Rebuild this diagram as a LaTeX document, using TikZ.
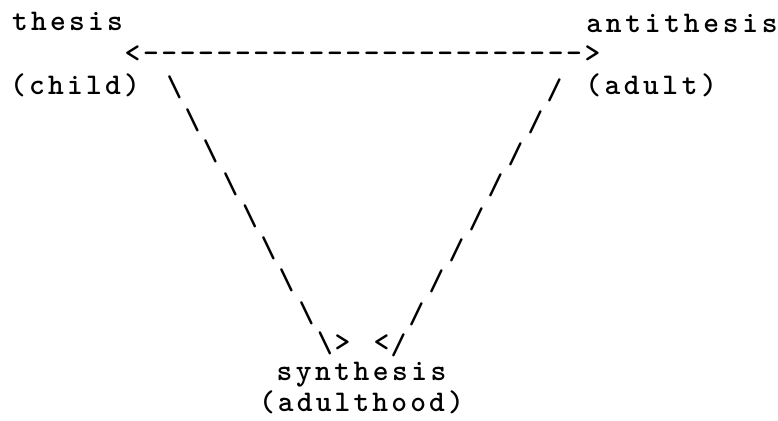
\documentclass[tikz,border=0pt]{standalone}
\newlength\chpitch
\makeatletter
\def\pitchtext#1#2{\setlength\chpitch{#1pt}\pitch@step#2\relax}
\def\pitch@step#1{\ifx#1\relax\else\makebox[\chpitch][c]{#1}\expandafter\pitch@step\fi}
\makeatother
\tikzset{
  tw/.style={inner sep=0pt, outer sep=0pt, font=\ttfamily\bfseries\fontsize{30}{30}\selectfont},
  lbl/.style={tw, anchor=base west},
  sl/.style={tw, anchor=center},
  tip/.style={tw, anchor=base}
}
\begin{document}
\begin{tikzpicture}[x=1pt, y=-1pt]
\fill[white] (0,0) rectangle (778,420);
\useasboundingbox (0,0) rectangle (778,420);
% labels
\node[lbl] (thesis) at (10.6,31) {\pitchtext{19}{thesis}};
\node[lbl] (antithesis) at (584.5,32.5) {\pitchtext{19.5}{antithesis}};
\node[lbl] (child) at (8.5,94.6) {\pitchtext{19}{(child)}};
\node[lbl] (adult) at (583.5,94) {\pitchtext{19.3}{(adult)}};
\node[lbl] (synthesis) at (274.9,380) {\pitchtext{19.25}{synthesis}};
\node[lbl] (adulthood) at (257.5,411.5) {\pitchtext{18.9}{(adulthood)}};
% top arrow
\node[lbl] (arrow) at (123.3,63) {\pitchtext{18.4}{<------------------------>}};
% left diagonal
\node[sl] (l2) at (174.5,87.5) {\textbackslash};
\node[sl] (l3) at (192.5,120) {\textbackslash};
\node[sl] (l4) at (210.5,151.5) {\textbackslash};
\node[sl] (l5) at (230.5,184.5) {\textbackslash};
\node[sl] (l6) at (250,216.5) {\textbackslash};
\node[sl] (l7) at (268.5,248.5) {\textbackslash};
\node[sl] (l8) at (286.5,280.5) {\textbackslash};
\node[sl] (l9) at (306.5,313.5) {\textbackslash};
\node[sl] (l10) at (325,343.5) {\textbackslash};
\node[tip] (tipL) at (342.5,351) {>};
% right diagonal
\node[sl] (r2) at (554.5,90.5) {/};
\node[sl] (r3) at (535.5,122.5) {/};
\node[sl] (r4) at (515.5,154.5) {/};
\node[sl] (r5) at (495.5,185.5) {/};
\node[sl] (r6) at (476.5,219.5) {/};
\node[sl] (r7) at (456.5,250) {/};
\node[sl] (r8) at (436.5,281.5) {/};
\node[sl] (r9) at (416.5,314.5) {/};
\node[sl] (r10) at (398.5,345) {/};
\node[tip] (tipR) at (381.5,351) {<};
\end{tikzpicture}
\end{document}
